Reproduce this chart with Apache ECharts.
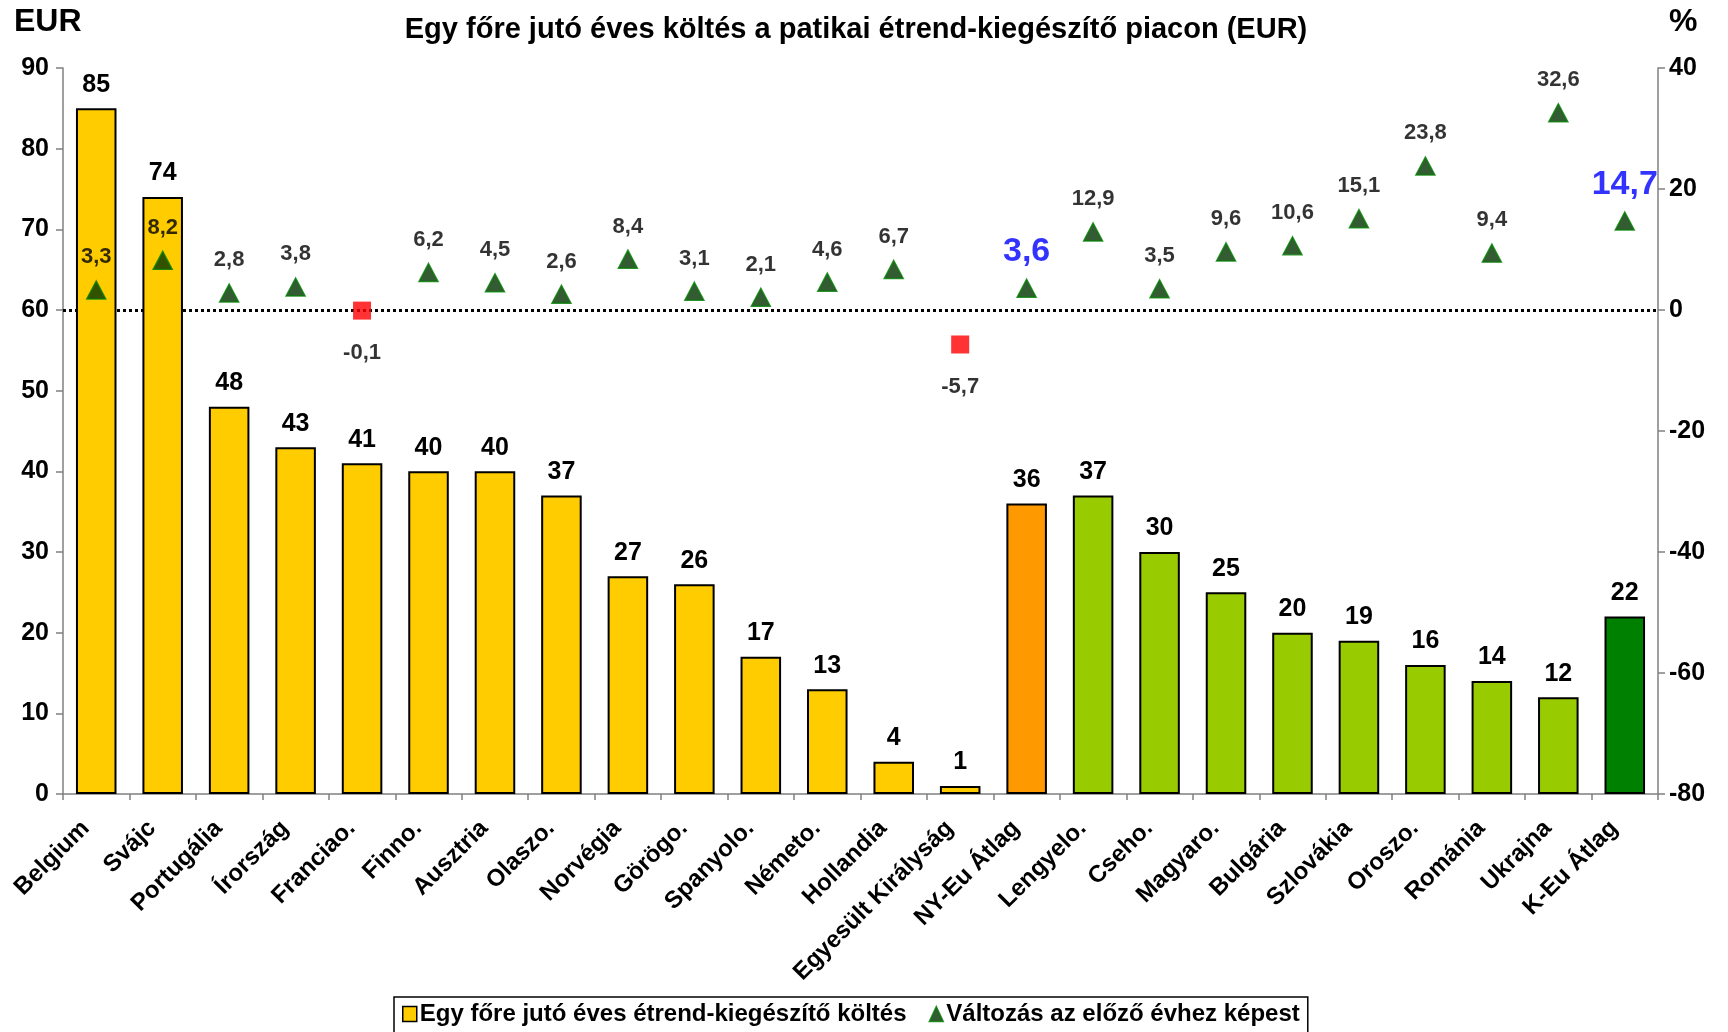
<!DOCTYPE html>
<html>
<head>
<meta charset="utf-8">
<script src="https://cdn.jsdelivr.net/npm/echarts@6/dist/echarts.min.js"></script>
<style>
  html, body { margin: 0; padding: 0; background: #ffffff; }
  #chart { width: 1728px; height: 1032px; }
</style>
</head>
<body>
<div id="chart"></div>
<script>
// Countries / regional averages along the x axis
const categories = [
  'Belgium', 'Svájc', 'Portugália', 'Írország', 'Franciao.', 'Finno.', 'Ausztria',
  'Olaszo.', 'Norvégia', 'Görögo.', 'Spanyolo.', 'Németo.', 'Hollandia',
  'Egyesült Királyság', 'NY-Eu Átlag', 'Lengyelo.', 'Cseho.', 'Magyaro.',
  'Bulgária', 'Szlovákia', 'Oroszo.', 'Románia', 'Ukrajna', 'K-Eu Átlag'
];

// Region group of each category (drives the bar colour)
const regions = [
  'west', 'west', 'west', 'west', 'west', 'west', 'west',
  'west', 'west', 'west', 'west', 'west', 'west',
  'west', 'westAvg', 'east', 'east', 'east',
  'east', 'east', 'east', 'east', 'east', 'eastAvg'
];

// Per-capita yearly spending, EUR
const spending = [85, 74, 48, 43, 41, 40, 40, 37, 27, 26, 17, 13, 4, 1, 36, 37, 30, 25, 20, 19, 16, 14, 12, 22];

// Change compared with the previous year, %
const change = [3.3, 8.2, 2.8, 3.8, -0.1, 6.2, 4.5, 2.6, 8.4, 3.1, 2.1, 4.6, 6.7, -5.7, 3.6, 12.9, 3.5, 9.6, 10.6, 15.1, 23.8, 9.4, 32.6, 14.7];

// Axis ranges: [min, max, interval]
const eurAxis = [0, 90, 10];
const pctAxis = [-80, 40, 20];

const seriesNames = [
  'Egy főre jutó éves étrend-kiegészítő költés',
  'Változás az előző évhez képest'
];

const FONT = '"Liberation Sans", Arial, Helvetica, sans-serif';
const regionColor = { west: '#FFCC00', westAvg: '#FF9900', east: '#99CC00', eastAvg: '#008000' };
const isAverage = (i) => regions[i] === 'westAvg' || regions[i] === 'eastAvg';
const fmtComma = (v) => String(v).replace('.', ',');

const barData = spending.map((v, i) => ({
  value: v,
  itemStyle: { color: regionColor[regions[i]] }
}));

const changeData = change.map((v, i) => {
  const neg = v < 0;
  const avg = isAverage(i);
  return {
    value: v,
    symbol: neg ? 'rect' : 'triangle',
    symbolSize: neg ? 18 : [19, 18],
    itemStyle: neg
      ? { color: '#FF0000', borderWidth: 0 }
      : { color: '#003300', borderColor: '#008000', borderWidth: 1.5 },
    label: {
      position: neg ? 'bottom' : 'top',
      distance: neg ? 22 : (avg ? 10 : 12),
      fontSize: avg ? 34 : 22,
      color: avg ? '#0000FF' : '#000000'
    }
  };
});

const chart = echarts.init(document.getElementById('chart'), null, { renderer: 'canvas' });

chart.setOption({
  animation: false,
  backgroundColor: '#ffffff',
  textStyle: { fontFamily: FONT },
  title: [
    {
      text: 'Egy főre jutó éves költés a patikai étrend-kiegészítő piacon (EUR)',
      left: 851, top: 10, textAlign: 'center',
      textStyle: { fontFamily: FONT, fontWeight: 'bold', fontSize: 29, color: '#000' }
    },
    {
      text: 'EUR', left: 9, top: 1,
      textStyle: { fontFamily: FONT, fontWeight: 'bold', fontSize: 32, color: '#000' }
    },
    {
      text: '%', left: 1664, top: 1,
      textStyle: { fontFamily: FONT, fontWeight: 'bold', fontSize: 32, color: '#000' }
    }
  ],
  legend: {
    bottom: -2,
    left: 394,
    orient: 'horizontal',
    borderColor: '#000',
    borderWidth: 1.5,
    padding: [5, 8, 8, 8],
    itemGap: 22,
    itemWidth: 14,
    itemHeight: 15,
    textStyle: { fontFamily: FONT, fontWeight: 'bold', fontSize: 24, color: '#000', padding: [0, 0, 0, -2] },
    data: [
      { name: seriesNames[0], icon: 'rect', itemStyle: { color: '#FFCC00', borderColor: '#000', borderWidth: 1.5 } },
      { name: seriesNames[1], icon: 'triangle', itemStyle: { color: '#003300', borderColor: '#008000', borderWidth: 1.5 } }
    ]
  },
  grid: { left: 63, right: 70, top: 68, bottom: 238, containLabel: false },
  xAxis: {
    type: 'category',
    data: categories,
    boundaryGap: true,
    axisLine: { show: true, lineStyle: { color: '#808080', width: 1.5 } },
    axisTick: { show: true, alignWithLabel: false, length: 6, lineStyle: { color: '#808080', width: 1.5 } },
    axisLabel: {
      rotate: 45,
      interval: 0,
      margin: 20,
      padding: [0, 15, 0, 0],
      fontFamily: FONT,
      fontWeight: 'bold',
      fontSize: 24,
      color: '#000'
    },
    splitLine: { show: false }
  },
  yAxis: [
    {
      type: 'value',
      min: eurAxis[0], max: eurAxis[1], interval: eurAxis[2],
      position: 'left',
      axisLine: { show: true, lineStyle: { color: '#808080', width: 1.5 } },
      axisTick: { show: true, inside: false, length: 7, lineStyle: { color: '#808080', width: 1.5 } },
      axisLabel: { fontFamily: FONT, fontWeight: 'bold', fontSize: 25, color: '#000', margin: 14 },
      splitLine: { show: false }
    },
    {
      type: 'value',
      min: pctAxis[0], max: pctAxis[1], interval: pctAxis[2],
      position: 'right',
      axisLine: { show: true, lineStyle: { color: '#808080', width: 1.5 } },
      axisTick: { show: true, inside: false, length: 7, lineStyle: { color: '#808080', width: 1.5 } },
      axisLabel: { fontFamily: FONT, fontWeight: 'bold', fontSize: 25, color: '#000', margin: 11 },
      splitLine: { show: false }
    }
  ],
  series: [
    {
      name: seriesNames[0],
      type: 'bar',
      yAxisIndex: 0,
      barWidth: '61%',
      data: barData,
      itemStyle: { color: '#FFCC00', borderColor: '#000', borderWidth: 2 },
      label: {
        show: true,
        position: 'top',
        distance: 11,
        fontFamily: FONT,
        fontWeight: 'bold',
        fontSize: 25,
        color: '#000'
      },
      z: 2
    },
    {
      name: seriesNames[1],
      type: 'scatter',
      yAxisIndex: 1,
      data: changeData,
      itemStyle: { color: '#003300', borderColor: '#008000', borderWidth: 1.5 },
      label: {
        show: true,
        fontFamily: FONT,
        fontWeight: 'bold',
        formatter: (p) => fmtComma(p.value)
      },
      markLine: {
        silent: true,
        symbol: ['none', 'none'],
        label: { show: false },
        lineStyle: { color: '#000', type: [3, 3], width: 3 },
        data: [{ yAxis: 0 }],
        z: 1
      },
      z: 5
    }
  ]
});
</script>
</body>
</html>
